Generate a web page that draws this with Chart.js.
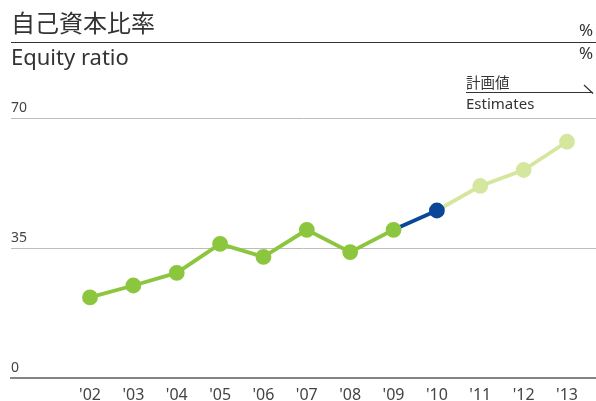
<!DOCTYPE html>
<html>
<head>
<meta charset="utf-8">
<script src="https://cdn.jsdelivr.net/npm/chart.js@4/dist/chart.umd.min.js"></script>
<style>
  body { margin: 0; background: #fff; }
  #wrap { position: relative; width: 596px; height: 401px; font-family: "Noto Sans", sans-serif; color: #333; }
  #wrap div { position: absolute; white-space: nowrap; }
  .jp { font-family: "Noto Sans CJK JP", sans-serif; }
</style>
</head>
<body>
<div id="wrap">
  <canvas id="grafico_equity" width="596" height="401"></canvas>
  <div class="jp" style="left:11px; top:7px; font-size:24px; line-height:30px;">自己資本比率</div>
  <div style="left:11px; top:42px; width:585px; height:0; border-top:1.5px solid #333;"></div>
  <div style="left:11px; top:43px; font-size:22px; line-height:26px;">Equity ratio</div>
  <div style="left:579px; top:20px; font-size:17px; line-height:20px;">%</div>
  <div style="left:579px; top:43px; font-size:17px; line-height:20px;">%</div>
  <div class="jp" style="left:466px; top:72px; font-size:14.5px; line-height:20px;">計画値</div>
  <div style="left:466px; top:92px; width:127px; height:0; border-top:1.3px solid #333;"></div>
  <svg style="position:absolute; left:583px; top:84px;" width="12" height="11"><line x1="1" y1="1" x2="10" y2="9.5" stroke="#333" stroke-width="1.2"/></svg>
  <div style="left:466px; top:93px; font-size:15px; line-height:20px;">Estimates</div>
</div>
<script>
// fiscal years on the x axis
var years = ["'02", "'03", "'04", "'05", "'06", "'07", "'08", "'09", "'10", "'11", "'12", "'13"];
// results '02-'09
var actualRatio = [21.7, 24.9, 28.3, 36.1, 32.6, 39.9, 33.9, 39.9];
// latest year '10
var latestRatio = [45.1];
// estimates '11-'13
var estimateRatio = [51.7, 56.0, 63.6];
var yTicks = [0, 35, 70];

var green = '#8cc63e';
var blue = '#0b4797';
var lightGreen = '#d5e79f';

var nActual = actualRatio.length;
var iLatest = nActual;

var actualPts = actualRatio.map(function (v, i) { return { x: i, y: v }; });
var latestPts = [
  { x: nActual - 1, y: actualRatio[nActual - 1] },
  { x: iLatest, y: latestRatio[0] }
];
var estimatePts = [{ x: iLatest, y: latestRatio[0] }].concat(
  estimateRatio.map(function (v, i) { return { x: iLatest + 1 + i, y: v }; })
);

var data = {
  datasets: [{
    label: 'Equity ratio',
    data: actualPts,
    borderColor: green,
    backgroundColor: green,
    pointRadius: 6,
    borderWidth: 3.8,
    order: 1
  }, {
    label: 'Equity ratio latest',
    data: latestPts,
    borderColor: blue,
    backgroundColor: blue,
    pointRadius: [0, 6],
    borderWidth: 3.8,
    order: 2
  }, {
    label: 'Estimates',
    data: estimatePts,
    borderColor: lightGreen,
    backgroundColor: lightGreen,
    pointRadius: [0, 6, 6, 6],
    borderWidth: 3.8,
    order: 3
  }]
};

// no extra room for the outer tick labels
function noLabelPadding(scale) {
  scale.paddingLeft = 0;
  scale.paddingRight = 0;
  scale.paddingTop = 0;
  scale.paddingBottom = 0;
}

var options = {
  responsive: false,
  animation: false,
  layout: { autoPadding: false, padding: { left: 11, right: 0, top: 118, bottom: 0 } },
  plugins: { legend: { display: false }, tooltip: { enabled: false } },
  elements: { point: { borderWidth: 0, hoverRadius: 6 }, line: { tension: 0 } },
  scales: {
    x: {
      type: 'linear',
      min: -1.822,
      max: 11.669,
      afterBuildTicks: function (scale) {
        scale.ticks = years.map(function (_, i) { return { value: i }; });
      },
      afterFit: function (scale) {
        noLabelPadding(scale);
        scale.height = 23;
      },
      grid: { display: false, drawTicks: false },
      border: { display: true, color: '#858585', width: 2 },
      ticks: {
        padding: 9,
        color: '#444',
        font: { family: 'Noto Sans', size: 16, lineHeight: 1 },
        maxRotation: 0,
        autoSkip: false,
        callback: function (v) { return years[v]; }
      }
    },
    y: {
      min: 0,
      max: 70,
      afterBuildTicks: function (scale) {
        scale.ticks = yTicks.map(function (v) { return { value: v }; });
      },
      afterFit: noLabelPadding,
      grid: {
        drawTicks: false,
        color: function (c) { return c.tick && c.tick.value === 0 ? 'rgba(0,0,0,0)' : '#bdbdbd'; },
        lineWidth: 1
      },
      border: { display: false },
      ticks: {
        mirror: true,
        padding: 0,
        color: '#444',
        font: { family: 'Noto Sans', size: 14, lineHeight: 1.45 },
        callback: function (v) { return [String(v), '']; }
      }
    }
  }
};

var ctx = document.getElementById('grafico_equity').getContext('2d');
var equityChart = new Chart(ctx, {
  type: 'line',
  data: data,
  options: options
});
</script>
</body>
</html>
